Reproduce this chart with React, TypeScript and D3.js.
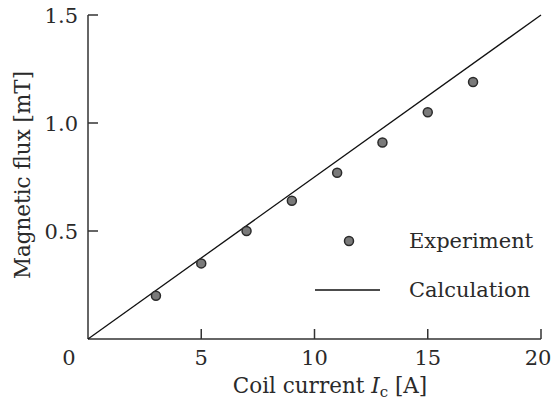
import React from "react";
import * as d3 from "d3";

// coil current [A] vs measured flux [mT]
const currents = [3, 5, 7, 9, 11, 13, 15, 17];
const flux = [0.2, 0.35, 0.5, 0.64, 0.77, 0.91, 1.05, 1.19];
// calculated line end points
const calcCurrent = [0, 20];
const calcFlux = [0, 1.5];
const xTicks = [0, 5, 10, 15, 20];
const yTicks = [0.5, 1.0, 1.5];

const W = 552, H = 402;
const FONT = "'DejaVu Serif', 'Liberation Serif', serif";

const App = () => {
  const x = d3.scaleLinear().domain([0, 20]).range([88, 541]);
  const y = d3.scaleLinear().domain([0, 1.5]).range([339, 15]);

  const line = d3.line<number>()
    .x((d, i) => x(calcCurrent[i]))
    .y((d) => y(d));

  const axisCol = "#333";
  const fs = 21;
  const txt = "#2a2a2a";

  return (
    <svg width={W} height={H} style={{ position: "absolute", left: 0, top: 0, background: "#fff" }}
      fontFamily={FONT}>
      {/* axes */}
      <line x1={x(0)} x2={x(0)} y1={y(1.5)} y2={y(0)} stroke={axisCol} strokeWidth={1.5} />
      <line x1={x(0)} x2={x(20)} y1={y(0)} y2={y(0)} stroke={axisCol} strokeWidth={1.5} />
      {yTicks.map((t) => (
        <g key={"y" + t}>
          <line x1={x(0)} x2={x(0) + 10} y1={y(t)} y2={y(t)} stroke={axisCol} strokeWidth={1.5} />
          <text x={78} y={y(t) + 7.5} textAnchor="end" fontSize={fs} fill={txt}>{t.toFixed(1)}</text>
        </g>
      ))}
      {xTicks.map((t) => (
        <g key={"x" + t}>
          {t > 0 && <line x1={x(t)} x2={x(t)} y1={y(0)} y2={y(0) - 10} stroke={axisCol} strokeWidth={1.5} />}
          <text x={t === 0 ? 69 : t === 20 ? 538 : x(t)} y={365} textAnchor="middle" fontSize={fs} fill={txt}>{t}</text>
        </g>
      ))}
      {/* axis titles */}
      <text x={330} y={393} textAnchor="middle" fontSize={fs + 0.5} fill={txt}>
        Coil current <tspan fontStyle="italic">I</tspan><tspan fontSize={15} dy={4}>c</tspan><tspan dy={-4}> [A]</tspan>
      </text>
      <text transform={`translate(30,175) rotate(-90)`} textAnchor="middle" fontSize={fs + 0.5} fill={txt}>
        Magnetic flux [mT]
      </text>
      {/* calculation line */}
      <path d={line(calcFlux) || ""} fill="none" stroke="#111" strokeWidth={1.3} />
      {/* experiment points */}
      {currents.map((c, i) => (
        <circle key={c} cx={x(c)} cy={y(flux[i])} r={4.5} fill="#7a7a7a" stroke="#2a2a2a" strokeWidth={1.5} />
      ))}
      {/* legend */}
      <circle cx={349} cy={241} r={4.5} fill="#7a7a7a" stroke="#2a2a2a" strokeWidth={1.5} />
      <text x={409} y={248} fontSize={fs} fill={txt}>Experiment</text>
      <line x1={315} x2={380} y1={290} y2={290} stroke="#111" strokeWidth={1.3} />
      <text x={409} y={297} fontSize={fs} fill={txt}>Calculation</text>
    </svg>
  );
};

export default App;
